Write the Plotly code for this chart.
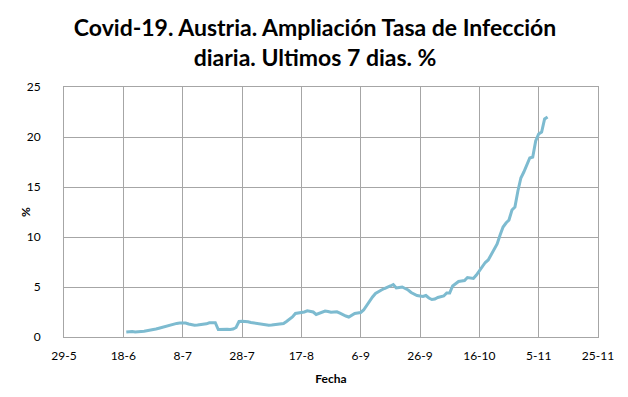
import plotly.graph_objects as go
import pandas as pd

start_date = "2020-06-19"
tasa = [
    0.50, 0.55, 0.55, 0.50, 0.50, 0.55, 0.58, 0.62, 0.68, 0.74,
    0.80, 0.88, 0.96, 1.04, 1.15, 1.25, 1.33, 1.36, 1.40, 1.43,
    1.40, 1.30, 1.20, 1.17, 1.20, 1.22, 1.25, 1.32, 1.42, 1.45,
    1.43, 0.75, 0.78, 0.80, 0.78, 0.75, 0.80, 0.95, 1.55, 1.58,
    1.57, 1.52, 1.45, 1.40, 1.38, 1.35, 1.30, 1.22, 1.17, 1.20,
    1.22, 1.25, 1.28, 1.35, 1.55, 1.75, 2.00, 2.35, 2.38, 2.40,
    2.50, 2.62, 2.58, 2.50, 2.25, 2.35, 2.45, 2.60, 2.55, 2.48,
    2.50, 2.52, 2.38, 2.22, 2.10, 2.00, 2.20, 2.35, 2.40, 2.45,
    2.70, 3.15, 3.60, 4.00, 4.35, 4.55, 4.70, 4.85, 4.95, 5.10,
    5.25, 4.90, 4.95, 5.00, 4.85, 4.70, 4.45, 4.30, 4.15, 4.10,
    4.05, 4.15, 3.90, 3.75, 3.80, 3.95, 4.05, 4.10, 4.40, 4.40,
    5.10, 5.35, 5.55, 5.60, 5.65, 5.95, 5.90, 5.85, 6.20, 6.65,
    7.00, 7.45, 7.70, 8.20, 8.70, 9.30, 10.20, 11.00, 11.40, 11.70,
    12.70, 13.00, 14.60, 15.90, 16.50, 17.20, 17.90, 18.00, 19.60, 20.30,
    20.50, 21.80, 22.00,
]
fechas = pd.date_range(start_date, periods=len(tasa), freq="D")

tick_dates = ["2020-05-29", "2020-06-18", "2020-07-08", "2020-07-28", "2020-08-17",
              "2020-09-06", "2020-09-26", "2020-10-16", "2020-11-05", "2020-11-25"]
tick_labels = ["29-5", "18-6", "8-7", "28-7", "17-8", "6-9", "26-9", "16-10", "5-11", "25-11"]
y_ticks = [0, 5, 10, 15, 20, 25]

title_text = "Covid-19. Austria. Ampliación Tasa de Infección<br>diaria. Ultimos 7 dias. %"
y_title = "%"

fig = go.Figure()
fig.add_trace(go.Scatter(
    x=fechas, y=tasa, mode="lines",
    line=dict(color="#7dbbd0", width=3),
    showlegend=False,
))

grid = "#a6a6a6"
fig.update_layout(
    width=628, height=397,
    margin=dict(l=56, r=38, t=79, b=68, autoexpand=False),
    paper_bgcolor="white", plot_bgcolor="white",
    title=dict(text=title_text, xref="container", x=0.489, xanchor="center",
               yref="container", y=0.93, yanchor="top",
               font=dict(family="Lato", size=23, color="black", weight="bold")),
    font=dict(family="Lato", size=12, color="black"),
)
fig.add_annotation(
    text=y_title, xref="paper", yref="paper", x=-0.073, y=0.5,
    xanchor="center", yanchor="middle", showarrow=False, textangle=-90,
    font=dict(size=12, weight="bold", color="black"),
)
fig.update_xaxes(
    range=[tick_dates[0], tick_dates[-1]],
    tickvals=tick_dates, ticktext=tick_labels,
    showgrid=True, gridcolor=grid, gridwidth=1,
    showline=True, linecolor=grid, mirror=True,
    ticks="", ticklabelstandoff=8,
    tickfont=dict(size=12),
    title=dict(text="Fecha", font=dict(size=12, weight="bold"), standoff=12),
    zeroline=False, automargin=False,
)
fig.update_yaxes(
    range=[0, 25], tickvals=y_ticks,
    showgrid=True, gridcolor=grid, gridwidth=1,
    showline=True, linecolor=grid, mirror=True,
    ticks="", ticklabelstandoff=20,
    tickfont=dict(size=12),
    zeroline=False, automargin=False,
)

fig.write_html("out.html")
